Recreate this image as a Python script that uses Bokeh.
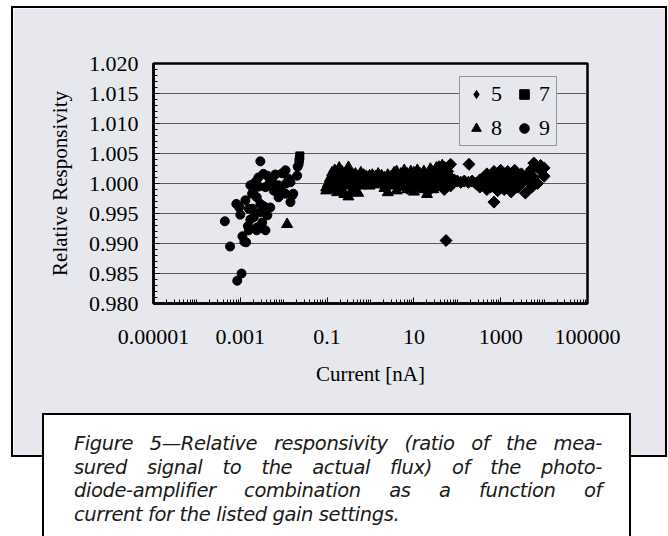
import math
from bokeh.plotting import figure
from bokeh.layouts import column
from bokeh.models import (FixedTicker, SingleIntervalTicker, PrintfTickFormatter,
                          Legend, LegendItem, Range1d, Div)
from bokeh.embed import file_html
from bokeh.resources import INLINE

# ---------------- data (current in nA, relative responsivity) ----------------
gain9_x = [0.00044, 0.00058, 0.00085, 0.00107, 0.00081, 0.00100, 0.00112, 0.00124,
           0.00136, 0.00150, 0.00157, 0.00205, 0.00245, 0.0038, 0.0032, 0.0049,
           0.0029, 0.00187, 0.0022, 0.0042, 0.0054, 0.0076, 0.0110, 0.0143,
           0.0157, 0.0110, 0.0076, 0.0059, 0.0038, 0.00171, 0.00131, 0.00157,
           0.0029, 0.0042, 0.0204, 0.0210, 0.0029, 0.0143, 0.0166, 0.0092,
           0.0114, 0.0073, 0.0024, 0.0019, 0.0024, 0.00095, 0.0026, 0.0034,
           0.0064, 0.0048, 0.0020, 0.0035, 0.0017, 0.0130, 0.0088, 0.0027]
gain9_y = [0.9937, 0.9895, 0.9838, 0.9850, 0.9966, 0.9948, 0.9912, 0.9903,
           0.9902, 0.9929, 0.9922, 0.9944, 0.9927, 0.9922, 0.9935, 0.9960,
           0.9966, 0.9983, 1.0002, 1.0013, 1.0005, 0.9997, 1.0022, 1.0002,
           0.9980, 0.9983, 0.9977, 0.9988, 0.9994, 0.9997, 0.9972, 0.9958,
           0.9952, 0.9947, 1.0013, 1.0028, 1.0037, 0.9969, 0.9983, 1.0017,
           1.0000, 0.9995, 0.9977, 0.9958, 0.9922, 0.9960, 1.0010, 1.0016,
           1.0015, 1.0002, 0.9987, 0.9962, 0.9940, 1.0008, 0.9990, 0.9995]

gain7_x = [0.0235, 0.0230, 0.0225]
gain7_y = [1.0046, 1.0041, 1.0036]

gain8_x = [0.012, 0.095, 0.095, 0.105, 0.105, 0.115, 0.115, 0.13, 0.13, 0.13,
           0.15, 0.15, 0.15, 0.17, 0.17, 0.17, 0.19, 0.19, 0.19, 0.22, 0.22, 0.22,
           0.25, 0.25, 0.25, 0.28, 0.28, 0.31, 0.31, 0.31, 0.35, 0.35, 0.35,
           0.40, 0.40, 0.40, 0.45, 0.45, 0.52, 0.52, 0.52, 0.6, 0.6, 0.6,
           0.7, 0.7, 0.8, 0.8, 0.95, 0.95, 0.95, 1.1, 1.1, 1.3, 1.3,
           1.5, 1.5, 1.5, 1.8, 1.8, 2.1, 2.1, 2.1, 2.5, 2.5, 2.5, 3.0, 3.0, 3.0,
           3.5, 3.5, 4.0, 4.0, 4.0, 5.0, 5.0, 5.0, 6.0, 6.0, 6.0, 7.0, 7.0, 7.0,
           8.5, 8.5, 8.5, 10, 10, 10, 12, 12, 12, 14, 14, 17, 17, 17,
           20, 20, 20, 24, 24, 28, 28, 33, 33, 38, 38, 45, 45]
gain8_y = [0.9932, 0.9988, 0.9993, 1.0000, 0.9990, 1.0008, 0.9996, 1.0018, 1.0005, 0.9992,
           1.0022, 1.0010, 0.9998, 1.0015, 1.0003, 0.9985, 1.0026, 1.0008, 0.9995, 1.0020, 1.0012, 0.9990,
           1.0016, 1.0004, 0.9982, 1.0010, 0.9996, 1.0027, 1.0012, 0.9978, 1.0018, 1.0006, 0.9985,
           1.0014, 1.0002, 0.9990, 1.0016, 0.9998, 1.0012, 1.0004, 0.9984, 1.0018, 1.0008, 0.9996,
           1.0014, 1.0002, 1.0012, 0.9998, 1.0013, 1.0004, 0.9996, 1.0014, 1.0006, 1.0012, 1.0002,
           1.0016, 1.0008, 0.9998, 1.0013, 1.0004, 1.0010, 1.0000, 0.9992, 1.0014, 1.0006, 0.9985,
           1.0012, 1.0002, 0.9996, 1.0018, 1.0008, 1.0020, 1.0004, 0.9988, 1.0016, 1.0006, 0.9994,
           1.0022, 1.0010, 0.9998, 1.0016, 1.0004, 0.9990, 1.0020, 1.0008, 0.9996,
           1.0018, 1.0002, 0.9986, 1.0022, 1.0010, 0.9994, 1.0016, 1.0004, 1.0020, 1.0008, 0.9990,
           1.0012, 0.9982, 0.9996, 1.0024, 1.0006, 1.0018, 0.9990, 1.0026, 1.0008, 1.0014, 0.9996,
           1.0030, 1.0012]

gain5_x = [5.0, 7.0, 7.0, 9.0, 9.0, 11, 11, 14, 14, 18, 18, 22, 22, 27, 27, 32, 32,
           38, 38, 44, 44, 50, 50, 50, 55, 60, 60, 70, 70, 70, 85, 100, 120, 145,
           186, 180, 220, 270, 330, 330, 400, 400, 480, 480, 480, 580, 580,
           700, 700, 700, 850, 850, 850, 1000, 1000, 1200, 1200, 1200, 1450, 1450,
           1750, 1750, 1750, 2100, 2100, 2500, 2500, 3000, 3000, 3700, 3700,
           4500, 4500, 5200, 5200, 5800, 5800, 7000, 7000, 8300, 8300, 10000, 10000]
gain5_y = [1.0000, 1.0012, 0.9992, 1.0006, 0.9998, 1.0014, 1.0000, 1.0010, 0.9994, 1.0016, 1.0002,
           1.0008, 0.9988, 1.0020, 1.0000, 1.0012, 0.9994, 1.0028, 1.0004, 1.0018, 0.9998,
           1.0027, 1.0008, 0.9990, 0.9905, 1.0020, 1.0002, 1.0032, 1.0010, 0.9996, 1.0006,
           1.0004, 1.0002, 1.0004, 1.0032, 1.0002, 1.0004, 1.0000, 1.0006, 0.9994, 1.0010, 0.9998,
           1.0016, 1.0002, 0.9990, 1.0012, 0.9994, 1.0020, 1.0004, 0.9969, 1.0014, 0.9998, 0.9988,
           1.0022, 1.0006, 1.0016, 1.0000, 0.9990, 1.0020, 1.0004, 1.0012, 0.9996, 0.9986,
           1.0022, 1.0006, 1.0010, 0.9994, 1.0016, 1.0000, 1.0008, 0.9984, 1.0018, 1.0002,
           1.0024, 0.9994, 1.0034, 1.0010, 1.0028, 1.0000, 1.0022, 1.0030, 1.0012, 1.0026]

legend_labels = ["5", "7", "8", "9"]
x_ticks = [1e-5, 1e-3, 1e-1, 1e1, 1e3, 1e5]
x_tick_labels = ["0.00001", "0.001", "0.1", "10", "1000", "100000"]
x_minor = [m * 10.0 ** k for k in range(-5, 5) for m in range(1, 10)]

caption_lines = [
    "Figure 5\u2014Relative responsivity (ratio of the mea-",
    "sured signal to the actual flux) of the photo-",
    "diode-amplifier combination as a function of",
    "current for the listed gain settings.",
]

PANEL = "#e7e8ed"
SERIF = "Liberation Serif"
CW, CH = 652, 447                      # gray panel (figure canvas) size
FL, FR, FT, FB = 140, 574, 55, 295     # frame edges on that canvas

p = figure(width=CW, height=CH, x_axis_type="log",
           x_range=Range1d(1e-5, 1e5), y_range=Range1d(0.980, 1.020),
           output_backend="svg", toolbar_location=None, title=None,
           min_border_left=FL, min_border_right=CW - FR,
           min_border_top=FT, min_border_bottom=CH - FB)
p.border_fill_color = PANEL
p.background_fill_color = PANEL
p.outline_line_color = "black"
p.outline_line_width = 2.5
p.margin = (8, 0, 0, 13)
p.styles = {"outline": "2.5px solid black"}

# axes
xa = p.xaxis[0]
xa.ticker = FixedTicker(ticks=x_ticks, minor_ticks=x_minor)
xa.major_label_overrides = dict(zip(x_ticks, x_tick_labels))
ya = p.yaxis[0]
ya.ticker = SingleIntervalTicker(interval=0.005, num_minor_ticks=5)
ya.formatter = PrintfTickFormatter(format="%.3f")
for ax in (xa, ya):
    ax.axis_line_width = 2.5
    ax.axis_line_color = "black"
    ax.major_tick_in = 6
    ax.major_tick_out = 0
    ax.minor_tick_in = 4
    ax.minor_tick_out = 0
    ax.major_tick_line_color = "black"
    ax.minor_tick_line_color = "black"
    ax.major_label_text_font = SERIF
    ax.major_label_text_font_size = "22px"
    ax.major_label_text_color = "black"
    ax.axis_label_text_font = SERIF
    ax.axis_label_text_font_size = "21px"
    ax.axis_label_text_font_style = "normal"
    ax.axis_label_text_color = "black"
xa.axis_label = "Current [nA]"
ya.axis_label = "Relative Responsivity"
xa.major_label_standoff = 26
xa.axis_label_standoff = 15
ya.major_label_standoff = 15
ya.axis_label_standoff = 14

p.xgrid.visible = False
p.ygrid.ticker = ya.ticker
p.ygrid.grid_line_color = "#5a5a5a"
p.ygrid.grid_line_width = 1.2

r5 = p.scatter(gain5_x, gain5_y, marker="square", angle=math.pi / 4, size=8.5, color="black")
r5_key = p.scatter(gain5_x, gain5_y, marker="diamond", size=0, color="black", line_alpha=0)
r7 = p.scatter(gain7_x, gain7_y, marker="square", size=8, color="black")
r8 = p.scatter(gain8_x, gain8_y, marker="triangle", size=11, color="black")
r9 = p.scatter(gain9_x, gain9_y, marker="circle", size=9, color="black")

items = {l: r for l, r in zip(legend_labels, [r5_key, r7, r8, r9])}
order = ["5", "8", "7", "9"]          # column-major fill -> rows "5 7" / "8 9"
legend = Legend(items=[LegendItem(label=l, renderers=[items[l]]) for l in order],
                ncols=2, location=(306, 157),
                background_fill_color=PANEL, background_fill_alpha=1.0,
                border_line_color="#444444", border_line_width=1,
                label_text_font=SERIF, label_text_font_size="22px",
                label_text_color="black",
                glyph_width=24, glyph_height=24, label_height=24, label_width=13,
                label_standoff=3, spacing=8, padding=4, margin=0)
p.add_layout(legend)

# caption box (overlaps the bottom of the gray panel)
line_css = ("font-family:'DejaVu Sans';font-style:italic;font-size:19.5px;"
            "letter-spacing:-0.4px;line-height:23.7px;height:23.7px;color:#1a1a1a;"
            "width:528px;white-space:nowrap;")
lines_html = "".join(
    f'<div style="{line_css}text-align:justify;text-align-last:'
    f'{"justify" if i < len(caption_lines) - 1 else "left"};">{t}</div>'
    for i, t in enumerate(caption_lines))
caption = Div(text=(
    '<div style="box-sizing:border-box;width:589px;height:123px;'
    'border:2.5px solid black;border-bottom:none;background:white;'
    'padding:17px 0 0 30px;margin:0;">' + lines_html + '</div>'),
    width=589, height=123, margin=(-42, 0, 0, 42),
    styles={"position": "relative", "z-index": "5"})

page = column(p, caption, spacing=0)
open("out.html", "w").write(file_html(page, INLINE))
